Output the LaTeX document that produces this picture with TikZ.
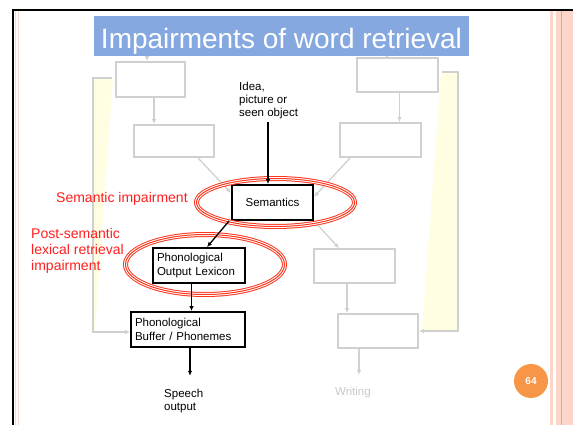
\documentclass[tikz,border=0pt]{standalone}
\usepackage{fontspec}
\setmainfont{Liberation Sans}
\usetikzlibrary{arrows.meta,shapes.geometric,calc}
\definecolor{titleblue}{RGB}{134,168,224}
\definecolor{boxgray}{RGB}{208,208,208}
\definecolor{wedgeyellow}{RGB}{255,253,226}
\definecolor{ringred}{RGB}{250,55,30}
\definecolor{labelred}{RGB}{255,30,30}
\definecolor{framepink}{RGB}{252,214,200}
\definecolor{frameorange}{RGB}{247,160,120}
\definecolor{badgeorange}{RGB}{247,150,70}
\definecolor{textgray}{RGB}{200,200,200}

\begin{document}
\begin{tikzpicture}[x=1pt,y=-1pt,
  graybox/.style={draw=boxgray, line width=1.8pt, inner sep=0pt},
  blackbox/.style={draw=black, line width=1.8pt, fill=white, font=\fontsize{11.5}{14}\selectfont},
  grayarrow/.style={draw=boxgray, line width=1.3pt, -{Latex[length=5pt,width=4.5pt]}},
  grayline/.style={draw=boxgray, line width=1.3pt},
  blackarrow/.style={draw=black, line width=1.3pt, -{Latex[length=5pt,width=4.5pt]}},
  redring/.style={ellipse, draw=ringred, line width=5pt, inner sep=0pt,
    postaction={draw=white, line width=3pt},
    postaction={draw=ringred, line width=1pt}},
  redlabel/.style={text=labelred, font=\fontsize{14}{16.3}\selectfont, inner sep=0pt, align=left},
  plain/.style={font=\fontsize{11.5}{13.4}\selectfont, inner sep=0pt, align=left}
]
\useasboundingbox (0,0) rectangle (573,425);

% page frame
\fill[framepink] (549.5,11) rectangle (553,425);
\fill[framepink] (556,11) rectangle (573,425);
\draw[frameorange, line width=1.2pt] (561.8,11) -- (561.8,425);
\draw[framepink, line width=1.2pt] (15.5,11) -- (15.5,425);
\draw[framepink, line width=1.2pt] (18.2,11) -- (18.2,425);
\draw[line width=2pt] (12,10) -- (573,10);
\draw[line width=2pt] (13,9) -- (13,425);

% title bar
\node[fill=titleblue, text=white, font=\fontsize{28}{32}\selectfont,
      minimum width=375pt, text height=32.3pt, text depth=7.7pt, inner sep=0pt]
      (title) at (281.5,36) {Impairments of word retrieval};

% side feedback wedges
\fill[wedgeyellow] (94,78) -- (113,78) -- (95,331) -- (94,331) -- cycle;
\fill[wedgeyellow] (441,72) -- (457,72) -- (457,331) -- (422,331) -- cycle;

% grey (unused) route boxes
\node[graybox, minimum width=69pt, minimum height=35pt] (tl1) at (150.5,79.5) {};
\node[graybox, minimum width=80pt, minimum height=32pt] (tl2) at (174,141) {};
\node[graybox, minimum width=81pt, minimum height=34pt] (tr1) at (397.5,75) {};
\node[graybox, minimum width=81pt, minimum height=34pt] (tr2) at (380.5,140) {};
\node[graybox, minimum width=81pt, minimum height=34pt] (mr) at (354.5,266) {};
\node[graybox, minimum width=80pt, minimum height=34pt] (br) at (378,331) {};

% spoken route boxes
\node[blackbox, minimum width=81pt, minimum height=35pt, inner sep=0pt] (sem) at (272.5,202.5) {Semantics};
\node[blackbox, minimum width=92pt, minimum height=35pt, text width=84pt,
      inner xsep=4pt, inner ysep=0pt, align=left] (pol) at (199,265.5) {Phonological\\Output Lexicon};
\node[blackbox, minimum width=114pt, minimum height=35pt, text width=106pt,
      inner xsep=4pt, inner ysep=0pt, align=left] (pb) at (188,329.5) {Phonological\\Buffer / Phonemes};

% plain texts (base anchor sits on the last line)
\node[plain, anchor=base west] (idea) at (239,117) {Idea,\\picture or\\seen object};
\node[plain, anchor=base west] (speech) at (164,410.7) {Speech\\output};
\node[plain, anchor=base west, text=textgray] (writing) at (335,395) {Writing};

% grey connectors
\coordinate (t1) at ($(tl1.north)+(-3.5,0)$);
\coordinate (t2) at ($(tr1.north)+(-10.5,0)$);
\draw[grayarrow] (t1 |- title.south) -- (t1);
\draw[grayline] (t2 |- title.south) -- (t2);
\draw[grayarrow] ($(tl1.south)+(3.5,0)$) -- ($(tl2.north)+(-20,0)$);
\draw[grayarrow] ($(tr1.south)+(2,0)$) -- ($(tr2.north)+(19,0)$);
\draw[grayarrow] ($(tl2.south east)+(-17,0)$) -- ($(sem.west)+(0,-9.5)$);
\draw[grayarrow] ($(tr2.south west)+(11,0)$) -- ($(sem.east)+(0,-5.5)$);
\draw[grayarrow] (sem.south east) -- ($(mr.north)+(-15.5,0)$);
\draw[grayarrow] ($(mr.south)+(-7.5,0)$) -- ($(br.north)+(-31,0)$);
\coordinate (wr) at ($(br.south)+(-19,0)$);
\draw[grayarrow, shorten >=11.6pt] (wr) -- (wr |- writing.north);
\draw[grayarrow] ($(tl1.west)+(-3,-1.5)$) -- ++(-19,0) |- ($(pb.west)+(0,2.5)$);
\draw[grayarrow] ($(tr1.east)+(3,-3)$) -- ++(16,0) |- (br.east);

% impairment rings
\node[redring, minimum width=158pt, minimum height=48pt] (semring) at ($(sem)+(3,0)$) {};
\node[redring, minimum width=159pt, minimum height=60pt] (polring) at ($(pol)+(6,-1)$) {};

% spoken route connectors
\coordinate (ia) at ($(sem.north)+(-4.5,0)$);
\draw[blackarrow, shorten <=2.6pt] (ia |- idea.south) -- (ia);
\draw[blackarrow] ($(sem.south west)+(-2,0)$) -- ($(pol.north)+(8,0)$);
\coordinate (pa) at ($(pol.south)+(-7.5,0)$);
\draw[blackarrow] (pa) -- (pa |- pb.north);
\coordinate (sa) at ($(pb.south)+(2,0)$);
\draw[blackarrow, shorten >=13pt] (sa) -- (sa |- speech.north);

% impairment labels
\node[redlabel, anchor=base west] (semlab) at (56,202) {Semantic impairment};
\node[redlabel, anchor=base west] (postlab) at (31,270.7) {Post-semantic\\lexical retrieval\\impairment};

% slide number
\node[circle, fill=badgeorange, minimum size=34pt, inner sep=0pt, text=white,
      font=\bfseries\fontsize{10}{12}\selectfont] (badge) at (531,381) {64};
\end{tikzpicture}
\end{document}
